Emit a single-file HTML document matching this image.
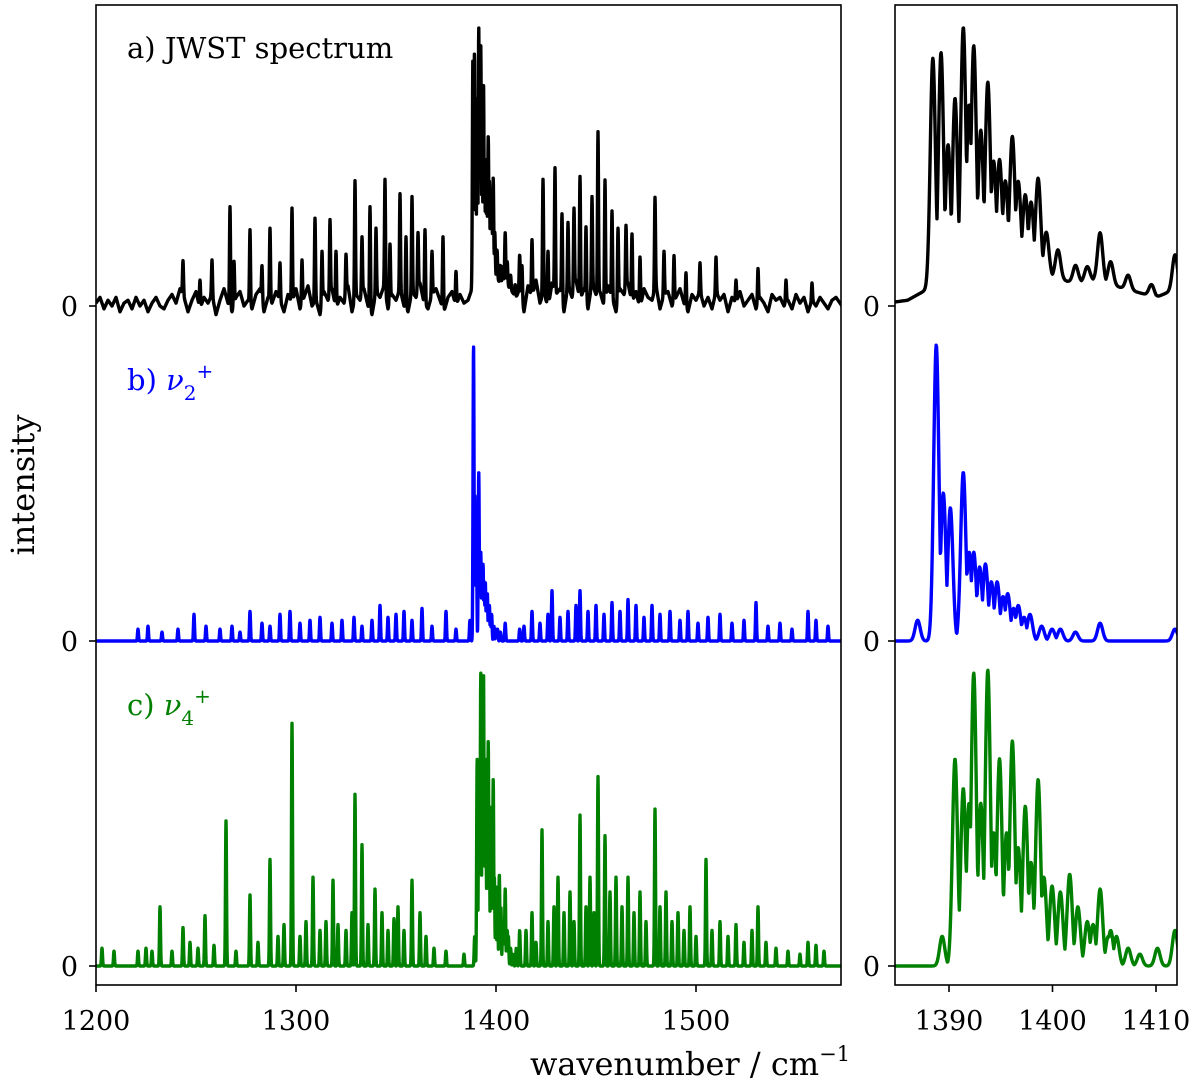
<!DOCTYPE html>
<html><head><meta charset="utf-8">
<style>
html,body{margin:0;padding:0;background:#fff;}
svg{display:block;font-family:"DejaVu Serif","Liberation Serif",serif;}
</style></head>
<body>
<svg id="chart" width="1200" height="1087" viewBox="0 0 1200 1087" xmlns="http://www.w3.org/2000/svg">
<defs>
<clipPath id="clipL"><rect x="96" y="5" width="745" height="980"/></clipPath>
<clipPath id="clipR"><rect x="895" y="5" width="282" height="980"/></clipPath>
</defs>
<g id="left"></g>
<g id="right"></g>
<rect x="96" y="5" width="745" height="980" fill="none" stroke="#000" stroke-width="1.6"/>
<rect x="895" y="5" width="282" height="980" fill="none" stroke="#000" stroke-width="1.6"/>
<text x="127" y="58" font-size="29" fill="#000">a) JWST spectrum</text>
<text x="127" y="390" font-size="29" fill="#0000ff">b) <tspan font-style="italic">ν</tspan><tspan font-size="20" dy="10">2</tspan><tspan font-size="20" dy="-22">+</tspan></text>
<text x="127" y="715" font-size="29" fill="#008000">c) <tspan font-style="italic">ν</tspan><tspan font-size="20" dy="10">4</tspan><tspan font-size="20" dy="-22">+</tspan></text>
<text transform="translate(34,485) rotate(-90)" text-anchor="middle" font-size="32" fill="#000">intensity</text>
<text x="690" y="1075" text-anchor="middle" font-size="32" fill="#000">wavenumber / cm<tspan font-size="21" dy="-14">−1</tspan></text>
<g id="ticks"></g>
</svg>
<script>
// ---- data ----
const noiseStart = 1200, noiseStep = 2;
const noiseA = [1,3,-1,2,0,3,-2,1,2,-1,3,0,2,-2,1,3,0,-1,2,4,1,
6,3,-2,2,5,-1,3,1,4,-3,2,6,1,-2,3,5,0,2,-1,4,6,-2,3,1,5,
2,-2,4,1,6,-1,3,7,0,2,-3,5,2,6,-1,3,1,7,-2,4,2,6,0,-3,5,
3,7,-1,4,2,6,0,-2,5,3,8,1,-1,4,6,2,-2,3,5,0,4,1,2,6,
6,10,12,14,12,10,8,9,7,5,3,6,-2,7,3,9,1,5,-1,8,4,6,-2,7,3,9,
2,6,-1,8,4,5,0,7,3,-2,6,4,8,1,5,-1,6,3,2,7,-1,4,5,0,3,
6,1,-2,4,2,5,0,3,-1,5,2,4,-2,3,1,5,0,2,4,-1,3,1,-2,4,2,
3,0,2,-1,4,1,3,-2,2,0,3,1,-1,2,3,1];
const peaksA = [[1243.5,.12],[1252,.1],[1258,.12],[1267,.35],[1269,.15],[1277,.26],[1283,.12],[1287,.25],[1292,.13],[1298,.33],[1303,.15],[1309.5,.29],[1313,.18],[1317,.26],[1320,.2],[1325,.14],[1329.5,.41],[1333,.2],[1337,.36],[1340,.22],[1344.5,.39],[1347,.2],[1352,.33],[1355,.25],[1358,.33],[1361,.2],[1364.5,.26],[1368,.15],[1373.5,.25],[1380,.12],
[1388.44,.8],[1389.23,.82],[1389.91,.5],[1390.58,.65],[1391.38,.88],[1391.94,.6],[1392.39,.8],[1393.07,.5],[1393.75,.66],[1394.31,.38],[1394.88,.38],[1395.44,.3],[1396.12,.45],[1396.69,.3],[1397.37,.26],[1397.93,.24],[1398.61,.33],[1399.4,.15],[1400.53,.1],[1402.22,.06],[1403.36,.05],[1404.6,.17],[1405.62,.08],[1407.31,.05],[1409.57,.04],[1411.83,.12],
[1413,.12],[1418,.2],[1423.5,.4],[1426,.2],[1429.5,.43],[1433,.3],[1436,.22],[1439,.28],[1442,.43],[1445,.25],[1448,.3],[1451,.56],[1454.5,.42],[1458,.3],[1461,.25],[1465,.22],[1468,.24],[1472,.18],[1479.5,.32],[1484,.15],[1489,.16],[1495,.12],[1502,.1],[1510,.12],[1520,.08],[1531,.12],[1545,.08],[1558,.06]];
const peaksB = [[1221,.04],[1226,.05],[1233,.03],[1241,.04],[1249,.09],[1255,.05],[1262,.04],[1268,.05],[1272,.03],[1277,.1],[1283,.06],[1287,.05],[1292,.09],[1297,.1],[1302,.06],[1307,.07],[1312,.08],[1318,.06],[1323,.07],[1329,.08],[1333,.05],[1338,.07],[1342,.12],[1346,.08],[1350,.09],[1354,.1],[1358,.07],[1363,.11],[1368,.05],[1375,.1],[1380,.04],
[1386.97,.07],[1388.77,1.0],[1389.45,.5],[1390.13,.45],[1391.38,.57],[1391.94,.3],[1392.39,.3],[1392.96,.25],[1393.52,.26],[1394.09,.2],[1394.65,.2],[1395.22,.15],[1395.67,.16],[1396.24,.11],[1396.69,.12],[1397.25,.08],[1397.82,.09],[1398.95,.05],[1399.96,.04],[1400.76,.04],[1402.22,.03],[1404.6,.06],[1411.83,.04],
[1414,.05],[1418,.1],[1422,.06],[1426,.09],[1428,.17],[1432,.08],[1436,.1],[1440,.12],[1442,.17],[1446,.1],[1450,.12],[1454,.09],[1458,.13],[1462,.1],[1466,.14],[1470,.12],[1474,.08],[1478,.12],[1482,.09],[1487,.1],[1492,.07],[1496,.1],[1501,.06],[1506,.08],[1512,.09],[1518,.06],[1524,.07],[1530,.13],[1536,.05],[1542,.06],[1548,.04],[1556,.1],[1560,.07],[1566,.05]];
const peaksC = [[1203,.06],[1209,.05],[1221,.05],[1225,.06],[1228,.05],[1232,.2],[1238,.05],[1243.5,.13],[1247,.08],[1251,.06],[1254.5,.17],[1259,.07],[1265,.49],[1270,.05],[1277,.24],[1281,.08],[1287,.36],[1291,.1],[1294,.14],[1298,.82],[1302,.1],[1305,.15],[1308.5,.3],[1312,.12],[1315,.15],[1318.5,.29],[1321,.14],[1325,.12],[1328,.18],[1329.5,.58],[1333,.41],[1336,.14],[1339.5,.26],[1343,.18],[1346,.12],[1349,.16],[1351,.2],[1354,.12],[1358,.29],[1362,.18],[1365,.1],[1369,.06],[1375,.05],[1384,.04],
[1389.34,.1],[1390.58,.7],[1391.38,.6],[1391.94,.55],[1392.39,.99],[1393.07,.55],[1393.75,1.0],[1394.31,.45],[1394.88,.7],[1395.56,.45],[1396.12,.76],[1396.69,.4],[1397.37,.54],[1397.93,.35],[1398.61,.63],[1399.17,.3],[1399.96,.27],[1400.76,.25],[1401.66,.31],[1402.45,.2],[1403.36,.15],[1403.92,.14],[1404.6,.26],[1405.39,.1],[1405.62,.12],[1406.18,.1],[1407.31,.06],[1408.44,.04],[1410.14,.06],[1411.83,.12],
[1415,.12],[1418,.18],[1420,.08],[1423,.46],[1426,.15],[1429,.2],[1431,.3],[1434,.18],[1437,.25],[1439,.15],[1442,.51],[1445,.2],[1447,.3],[1449,.18],[1451,.64],[1454.5,.44],[1457,.25],[1460,.3],[1463,.2],[1466,.3],[1469,.18],[1472,.25],[1475,.15],[1479.5,.53],[1482,.2],[1485,.25],[1488,.15],[1491,.18],[1494,.12],[1497,.2],[1500,.1],[1505,.36],[1508,.12],[1512,.15],[1516,.1],[1520,.14],[1524,.08],[1528,.12],[1531,.2],[1535,.08],[1540,.06],[1546,.05],[1552,.04],[1556,.08],[1560,.07],[1564,.05]];
const leftTicks = [1200,1300,1400,1500];
const rightTicks = [1390,1400,1410];

// ---- axes ----
const xL = w => 96 + (w-1200)*2;
const xR = w => 949 + (w-1390)*10.35;
const series = [
  {peaks:peaksA, noise:true, base:306, scale:288, color:'#000', name:'jwst'},
  {peaks:peaksB, noise:false, base:641, scale:296, color:'#0000ff', name:'nu2'},
  {peaks:peaksC, noise:false, base:966, scale:296, color:'#008000', name:'nu4'}
];
const sig = 0.25;
function val(s, w){
  let v = 0, m = 0;
  if (s.noise){
    const f=(w-noiseStart)/noiseStep, i=Math.max(0,Math.min(noiseA.length-2,Math.floor(f))), t=f-i;
    v += (noiseA[i]*(1-t)+noiseA[i+1]*t)*0.01;
  }
  for (const [p,h] of s.peaks){const d=w-p; if (Math.abs(d)<2){const g=h*Math.exp(-d*d/(2*sig*sig)); if(g>m)m=g;}}
  return v+m;
}
const NS='http://www.w3.org/2000/svg';
function path(parent, s, x0, x1, step, xf, clip){
  let d='';
  for (let w=x0; w<=x1; w+=step){
    const y = s.base - Math.min(1.02,val(s,w))*s.scale;
    d += (d?'L':'M')+xf(w).toFixed(2)+' '+y.toFixed(2);
  }
  const p=document.createElementNS(NS,'path');
  p.setAttribute('d',d);p.setAttribute('fill','none');p.setAttribute('stroke',s.color);
  p.setAttribute('stroke-width','3.4');p.setAttribute('stroke-linejoin','round');
  p.setAttribute('clip-path','url(#'+clip+')');
  
  
  parent.appendChild(p);
}
const gL=document.getElementById('left'), gR=document.getElementById('right');
for (const s of series){ path(gL,s,1200,1573,0.1,xL,'clipL'); path(gR,s,1384,1413,0.04,xR,'clipR'); }

const gt=document.getElementById('ticks');
function line(x1,y1,x2,y2){const l=document.createElementNS(NS,'line');
 l.setAttribute('x1',x1);l.setAttribute('y1',y1);l.setAttribute('x2',x2);l.setAttribute('y2',y2);
 l.setAttribute('stroke','#000');l.setAttribute('stroke-width','1.6');
 
 
 gt.appendChild(l);}
function text(x,y,s,anchor){const t=document.createElementNS(NS,'text');
 t.setAttribute('x',x);t.setAttribute('y',y);t.setAttribute('text-anchor',anchor);t.setAttribute('font-size','27');
 t.textContent=s;
 
 
 gt.appendChild(t);}
for (const w of leftTicks){line(xL(w),985,xL(w),992);text(xL(w),1030,String(w),'middle');}
for (const w of rightTicks){line(xR(w),985,xR(w),992);text(xR(w),1030,String(w),'middle');}
for (const s of series){
  line(89,s.base,96,s.base);text(78,s.base+10,'0','end');
  line(888,s.base,895,s.base);text(880,s.base+10,'0','end');
}
</script>
</body></html>
